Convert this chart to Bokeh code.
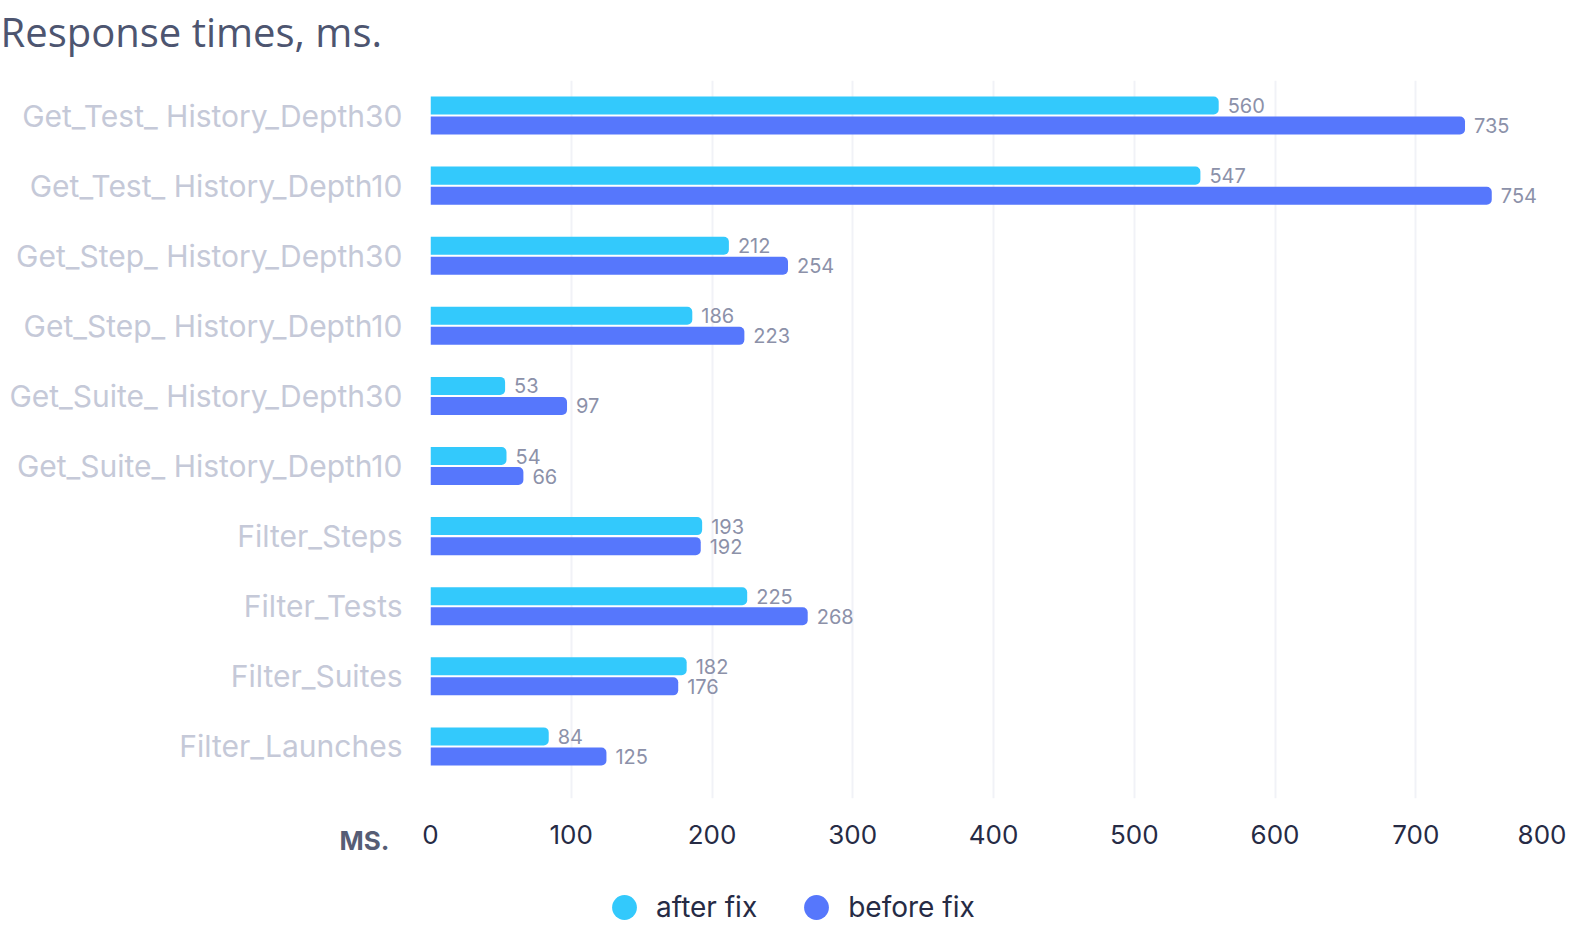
from bokeh.plotting import figure
from bokeh.layouts import column
from bokeh.models import (ColumnDataSource, Range1d, FixedTicker, Label, Legend, LegendItem)
from bokeh.core.properties import value
from bokeh.embed import file_html
from bokeh.resources import INLINE

title_text = "Response times, ms."
unit_text = "MS."
categories = ["Get_Test_ History_Depth30", "Get_Test_ History_Depth10",
              "Get_Step_ History_Depth30", "Get_Step_ History_Depth10",
              "Get_Suite_ History_Depth30", "Get_Suite_ History_Depth10",
              "Filter_Steps", "Filter_Tests", "Filter_Suites", "Filter_Launches"]
after_fix = [560, 547, 212, 186, 53, 54, 193, 225, 182, 84]
before_fix = [735, 754, 254, 223, 97, 66, 192, 268, 176, 125]
x_ticks = [0, 100, 200, 300, 400, 500, 600, 700, 800]
series_names = ["after fix", "before fix"]

CYAN = "#33c9fc"
BLUE = "#5677fc"
FONT = "Inter"
NAN = float("nan")

rows = list(range(len(categories)))
OFF = 0.143
src_a = ColumnDataSource(dict(y=[r - OFF for r in rows], v=after_fix,
                              t=[str(v) for v in after_fix]))
src_b = ColumnDataSource(dict(y=[r + OFF for r in rows], v=before_fix,
                              t=[str(v) for v in before_fix]))

p = figure(width=1566, height=880, output_backend="svg", toolbar_location=None,
           x_range=Range1d(0, 800), y_range=Range1d(9.743, -0.5),
           min_border_left=430, min_border_right=10, min_border_top=80,
           min_border_bottom=82)
p.outline_line_color = None
p.background_fill_color = "white"
p.border_fill_color = "white"

p.hbar(y="y", left=0, right="v", height=0.257, source=src_a,
       fill_color=CYAN, line_color=None, border_radius=(0, 5, 5, 0))
p.hbar(y="y", left=0, right="v", height=0.257, source=src_b,
       fill_color=BLUE, line_color=None, border_radius=(0, 5, 5, 0))

for s in (src_a, src_b):
    p.text(x="v", y="y", text="t", source=s, x_offset=9, text_baseline="middle",
           text_align="left", text_font=value(FONT), text_font_size="20px",
           text_color="#8c91a9")

# axes
p.xaxis.ticker = FixedTicker(ticks=x_ticks)
p.xaxis.axis_line_color = None
p.xaxis.major_tick_line_color = None
p.xaxis.minor_tick_line_color = None
p.xaxis.major_label_text_font = FONT
p.xaxis.major_label_text_font_size = "26px"
p.xaxis.major_label_text_color = "#262b45"
p.xaxis.major_label_standoff = 20

p.yaxis.ticker = FixedTicker(ticks=rows)
p.yaxis.major_label_overrides = {r: c for r, c in zip(rows, categories)}
p.yaxis.axis_line_color = None
p.yaxis.major_tick_line_color = None
p.yaxis.minor_tick_line_color = None
p.yaxis.major_label_text_font = FONT
p.yaxis.major_label_text_font_size = "30px"
p.yaxis.major_label_text_color = "#c5c9d8"
p.yaxis.major_label_standoff = 22

p.ygrid.grid_line_color = None
p.xgrid.grid_line_color = "#f1f2f7"
p.xgrid.grid_line_width = 2

# chart title (side panel above the plot area)
p.add_layout(Label(x=-430, y=49, x_units="screen", y_units="screen",
                   text=title_text, text_font="Open Sans", text_font_size="40px",
                   text_color="#4d5570", text_baseline="middle", text_align="left"),
             "above")

# unit label at the level of the x tick labels
p.add_layout(Label(x=-41, y=37, x_units="screen", y_units="screen",
                   text=unit_text, text_font=FONT, text_font_size="26px",
                   text_font_style="bold", text_color="#565d75",
                   text_baseline="middle", text_align="right"), "below")

# legend strip below the chart
q = figure(width=1566, height=42, output_backend="svg", toolbar_location=None,
           x_range=Range1d(0, 1), y_range=Range1d(0, 1),
           x_axis_type=None, y_axis_type=None,
           min_border_left=0, min_border_right=0, min_border_top=0, min_border_bottom=0)
q.outline_line_color = None
q.xgrid.visible = False
q.ygrid.visible = False
da = q.scatter(x=[NAN], y=[NAN], marker="circle", size=25, fill_color=CYAN, line_color=None)
db = q.scatter(x=[NAN], y=[NAN], marker="circle", size=25, fill_color=BLUE, line_color=None)
legend = Legend(items=[LegendItem(label=series_names[0], renderers=[da]),
                       LegendItem(label=series_names[1], renderers=[db])],
                orientation="horizontal", location=(163, -16),
                glyph_width=62, glyph_height=62, label_standoff=1, spacing=28,
                padding=0, margin=0, label_height=26,
                label_text_font=FONT, label_text_font_size="28px",
                label_text_color="#262b45", label_text_baseline="middle",
                background_fill_alpha=0, border_line_alpha=0)
q.add_layout(legend)

layout = column(p, q, spacing=0)
open("out.html", "w").write(file_html(layout, INLINE))
